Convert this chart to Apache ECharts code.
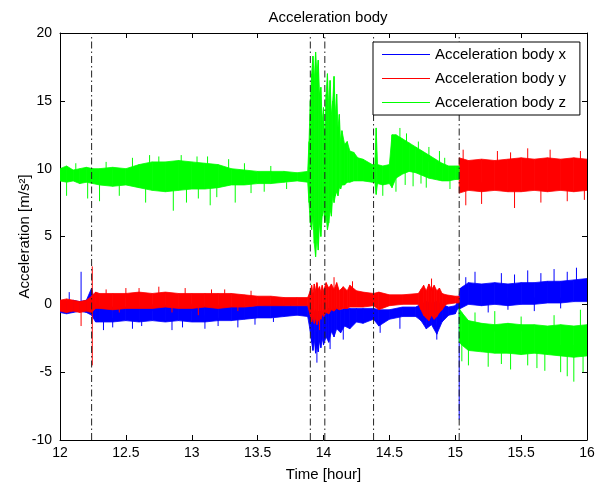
<!DOCTYPE html>
<html><head><meta charset="utf-8">
<script src="https://cdn.jsdelivr.net/npm/echarts@6/dist/echarts.min.js"></script>
<style>html,body{margin:0;padding:0;background:#fff}#c{width:603px;height:488px}</style>
</head><body><div id="c"></div>
<script>
// ---- Data (time in hours, acceleration in m/s^2) ----
// Envelope (upper / lower edge of the dense noisy band) of each signal
const timeX = [12.00,12.05,12.10,12.15,12.20,12.24,12.27,12.30,12.40,12.50,12.60,12.70,12.80,12.90,13.00,13.10,13.20,13.30,13.40,13.50,13.60,13.70,13.80,13.88,13.90,13.91,13.92,13.93,13.94,13.95,13.96,13.97,13.98,13.99,14.00,14.02,14.04,14.06,14.08,14.10,14.13,14.16,14.20,14.25,14.30,14.38,14.42,14.50,14.60,14.70,14.74,14.78,14.82,14.86,14.90,14.95,15.00,15.02,15.04,15.10,15.20,15.30,15.40,15.50,15.60,15.70,15.80,15.90,16.00];
const xHi   = [0.3,0.2,0.3,0.2,0.3,1.2,-0.1,-0.2,-0.2,-0.2,-0.2,-0.2,-0.1,-0.2,-0.2,-0.2,-0.1,-0.2,-0.2,-0.1,0.0,-0.1,-0.1,-0.1,-0.2,-0.4,-0.3,-0.6,-0.4,-0.7,-0.5,-0.8,-0.5,-0.6,-0.4,-0.5,-0.3,-0.4,-0.3,-0.3,-0.4,-0.3,-0.3,-0.3,-0.3,-0.3,-0.4,-0.4,-0.2,-0.2,0.0,0.2,0.1,0.2,0.0,-0.2,-0.1,0.2,1.2,1.6,1.5,1.6,1.5,1.6,1.6,1.7,1.7,1.8,1.9];
const xLo   = [-0.6,-0.7,-0.6,-0.5,-0.6,-0.8,-1.3,-1.3,-1.3,-1.2,-1.3,-1.2,-1.3,-1.2,-1.3,-1.3,-1.2,-1.2,-1.1,-1.0,-1.0,-0.9,-0.8,-0.9,-2.0,-2.8,-3.4,-2.6,-3.6,-3.0,-3.5,-2.7,-3.2,-2.5,-3.0,-2.4,-2.8,-2.0,-2.4,-1.8,-2.1,-1.6,-1.8,-1.3,-1.4,-1.1,-1.6,-1.1,-0.9,-0.9,-1.2,-1.8,-1.5,-2.2,-1.3,-0.8,-0.7,-0.3,-0.3,0.0,-0.1,0.0,-0.1,0.0,0.0,0.1,0.1,0.2,0.2];

const timeY = [12.00,12.05,12.10,12.15,12.20,12.24,12.27,12.30,12.40,12.50,12.60,12.70,12.80,12.90,13.00,13.10,13.20,13.30,13.40,13.50,13.60,13.70,13.80,13.88,13.90,13.91,13.92,13.93,13.94,13.95,13.96,13.97,13.98,13.99,14.00,14.02,14.04,14.06,14.08,14.10,14.12,14.15,14.18,14.20,14.25,14.30,14.38,14.42,14.50,14.60,14.72,14.74,14.76,14.78,14.80,14.82,14.84,14.86,14.88,14.90,14.93,15.00,15.03,15.03,15.10,15.20,15.30,15.40,15.50,15.60,15.70,15.80,15.90,16.00];
const yHi   = [0.3,0.4,0.3,0.2,0.3,0.6,0.9,0.8,0.8,0.8,0.9,0.8,0.9,0.8,0.8,0.8,0.8,0.8,0.7,0.6,0.6,0.5,0.5,0.5,1.0,1.4,0.8,1.5,1.0,1.6,1.1,1.3,0.9,1.4,1.0,1.6,1.2,1.5,1.1,1.6,1.0,1.3,1.0,1.4,1.0,0.9,0.8,0.9,0.7,0.7,0.8,1.1,1.4,1.0,1.5,1.1,1.4,1.0,1.2,0.8,0.7,0.6,0.6,10.8,10.6,10.7,10.6,10.7,10.8,10.7,10.8,10.7,10.8,10.7];
const yLo   = [-0.5,-0.6,-0.5,-0.6,-0.5,-0.6,-0.3,-0.3,-0.4,-0.3,-0.3,-0.3,-0.2,-0.3,-0.3,-0.2,-0.3,-0.2,-0.2,-0.1,-0.1,-0.1,-0.1,-0.1,-0.8,-1.3,-0.9,-1.4,-1.0,-1.5,-1.2,-0.8,-1.1,-0.7,-0.9,-0.6,-0.7,-0.4,-0.5,-0.3,-0.4,-0.3,-0.3,-0.2,-0.2,-0.2,-0.1,-0.4,-0.1,0.0,0.0,-0.4,-0.8,-1.0,-1.2,-0.8,-1.1,-0.9,-0.6,-0.4,0.0,0.1,0.1,8.2,8.4,8.3,8.4,8.3,8.3,8.4,8.3,8.4,8.3,8.4];

const timeZ = [12.00,12.05,12.10,12.15,12.20,12.25,12.30,12.40,12.50,12.60,12.70,12.80,12.90,13.00,13.10,13.20,13.30,13.40,13.50,13.60,13.70,13.80,13.88,13.89,13.90,13.91,13.92,13.93,13.94,13.95,13.96,13.97,13.98,13.99,14.00,14.01,14.02,14.03,14.04,14.05,14.06,14.07,14.08,14.09,14.10,14.11,14.12,14.13,14.14,14.16,14.18,14.20,14.23,14.26,14.30,14.37,14.39,14.40,14.41,14.45,14.50,14.52,14.55,14.60,14.65,14.70,14.75,14.80,14.85,14.90,14.95,15.00,15.03,15.03,15.05,15.10,15.20,15.30,15.40,15.50,15.60,15.70,15.80,15.90,16.00];
const zHi   = [10.0,10.2,9.9,10.0,10.1,10.0,10.0,10.1,10.0,10.3,10.5,10.5,10.6,10.5,10.4,10.3,10.0,9.9,9.8,9.8,9.8,9.7,9.8,12.0,15.0,17.0,18.3,16.5,18.6,17.0,18.0,15.5,16.0,13.5,14.5,12.0,15.5,17.0,14.5,16.5,14.0,15.0,16.8,14.0,15.5,13.0,14.0,12.0,12.8,11.8,12.0,11.3,11.2,10.8,10.7,10.3,10.3,13.0,10.3,10.2,10.3,12.5,12.5,12.2,11.9,11.6,11.3,11.0,10.7,10.4,10.2,10.2,10.2,-0.3,-0.6,-1.2,-1.4,-1.5,-1.4,-1.5,-1.5,-1.6,-1.5,-1.6,-1.5];
const zLo   = [9.1,9.0,9.1,8.9,9.0,8.9,8.8,8.7,8.8,8.6,8.4,8.3,8.4,8.5,8.5,8.6,8.8,8.8,8.9,8.9,9.0,9.1,9.0,7.5,6.0,5.5,6.5,4.5,3.5,5.0,4.0,6.0,5.0,6.5,7.0,6.0,6.5,5.5,6.0,7.0,6.5,8.0,7.5,8.0,8.3,8.0,8.6,8.5,8.8,8.8,9.0,9.0,9.1,9.1,9.1,9.0,9.0,8.1,8.9,8.8,8.9,8.6,9.3,9.6,9.8,9.7,9.5,9.3,9.2,9.1,9.1,9.2,9.2,-2.8,-3.0,-3.4,-3.5,-3.6,-3.6,-3.7,-3.6,-3.7,-3.8,-3.9,-3.8];

// Isolated spikes sticking out of the bands: [time, from, to]
const spikesX = [[12.07,0,0.9],[12.16,0,2.4],[12.33,-0.8,-1.9],[12.40,-1,-1.7],[12.47,-0.5,0.1],[12.55,-0.8,-1.8],[12.62,-1,-1.6],[12.70,-0.5,0.0],[12.85,-0.8,-1.9],[12.93,-1,-1.7],[13.00,-0.5,0.05],[13.10,-0.8,-1.8],[13.20,-1,-1.6],[13.27,-0.5,0.1],[13.35,-0.8,-1.7],[13.48,-1,-1.5],[13.62,-1,-1.3],[13.75,-0.5,0.1],[13.95,-2,-4.3],[14.05,-1.5,-3.3],[14.15,-1,-2.6],[14.43,-1,-2.1],[14.58,-0.8,-1.8],[14.86,-1.5,-2.6],[15.03,0,-8.5],[15.08,1,2.0],[15.15,1,2.4],[15.25,0.5,-0.6],[15.35,1,2.3],[15.40,0.5,-0.4],[15.45,1,2.2],[15.55,1,2.5],[15.60,0.5,-0.5],[15.65,1,2.3],[15.75,1,2.6],[15.80,0.5,-0.3],[15.85,1,2.4],[15.92,1,2.7]];
const spikesY = [[12.16,-0.3,-1.6],[12.245,2.8,-4.5],[12.35,0.5,1.1],[12.45,0,-0.6],[12.50,0.5,1.2],[12.60,0.5,1.2],[12.75,0.5,1.3],[12.85,0,-0.6],[12.95,0.5,1.2],[13.05,0,-0.8],[13.15,0.5,1.1],[13.25,0.5,1.1],[13.35,0,-0.5],[13.45,0.5,1.0],[13.97,0,-1.9],[14.08,1,2.0],[14.22,1,1.7],[14.82,1,1.9],[15.06,9.5,11.4],[15.08,9,7.3],[15.20,9,7.4],[15.32,10,11.3],[15.42,10,11.2],[15.45,9,7.1],[15.55,10,11.5],[15.65,9,7.5],[15.72,10,11.4],[15.85,9,7.6],[15.95,10,11.3],[15.98,9,7.7]];
const spikesZ = [[12.05,9,8.0],[12.12,9.5,10.4],[12.21,9,7.8],[12.30,9,7.6],[12.35,9.5,10.5],[12.45,9,8.0],[12.55,9.5,10.8],[12.65,9,7.5],[12.68,9.5,11.0],[12.75,10,10.9],[12.86,9,6.9],[12.92,9.5,11.0],[12.96,9,7.5],[13.04,10,10.9],[13.05,9,7.8],[13.12,9.5,10.9],[13.14,9,7.3],[13.19,9,7.9],[13.28,10,10.7],[13.33,9,7.5],[13.40,9.5,10.4],[13.45,9,8.2],[13.55,9,8.3],[13.60,9.5,10.2],[13.72,9,8.5],[14.45,9,8.0],[14.55,9.5,8.3],[14.58,11,13.0],[14.62,10,8.8],[14.63,11,12.6],[14.68,10,8.7],[14.72,11,12.0],[14.74,10,8.9],[14.78,10,8.6],[14.80,10.5,11.6],[14.88,10,11.3],[14.92,10,10.8],[14.96,9.5,8.5],[15.05,-2,-4.2],[15.10,-3,-4.5],[15.15,-2,-0.6],[15.25,-3,-4.6],[15.30,-2,-0.5],[15.35,-3,-4.4],[15.42,-3,-4.8],[15.50,-2,-0.9],[15.55,-3,-4.5],[15.62,-3,-4.7],[15.68,-3,-4.9],[15.75,-2,-0.8],[15.80,-3,-5.0],[15.85,-3,-5.3],[15.90,-3,-5.7],[15.95,-2,-0.4],[15.97,-3,-5.0]];

// Event markers (dash-dot vertical lines)
const eventTimes = [12.24, 13.90, 14.01, 14.38, 15.03];

const seriesNames = ['Acceleration body x', 'Acceleration body y', 'Acceleration body z'];
const xMin = 12, xMax = 16, xStep = 0.5;
const yMin = -10, yMax = 20, yStep = 5;

// ---- Build drawing data ----
function segments(t, hi, lo) {
  const out = [];
  for (let i = 0; i < t.length - 1; i++) {
    if (t[i + 1] === t[i]) continue;
    out.push([t[i], lo[i], hi[i], t[i + 1], lo[i + 1], hi[i + 1]]);
  }
  return out;
}
function bandSeries(name, color, t, hi, lo) {
  return {
    type: 'custom', name: name, itemStyle: { color: color }, clip: true,
    encode: { x: [0, 3], y: [1, 2, 4, 5] },
    data: segments(t, hi, lo),
    renderItem: function (params, api) {
      const a = api.coord([api.value(0), api.value(1)]);
      const b = api.coord([api.value(0), api.value(2)]);
      const c = api.coord([api.value(3), api.value(5)]);
      const d = api.coord([api.value(3), api.value(4)]);
      return { type: 'polygon', shape: { points: [a, b, c, d] },
        style: { fill: color, stroke: color, lineWidth: 0.8 } };
    }
  };
}
function spikeSeries(name, color, spikes) {
  return {
    type: 'custom', name: name, itemStyle: { color: color }, clip: true,
    encode: { x: 0, y: [1, 2] },
    data: spikes,
    renderItem: function (params, api) {
      const a = api.coord([api.value(0), api.value(1)]);
      const b = api.coord([api.value(0), api.value(2)]);
      return { type: 'line', shape: { x1: a[0], y1: a[1], x2: b[0], y2: b[1] },
        style: { stroke: color, lineWidth: 1 } };
    }
  };
}

const colors = ['#0000ff', '#ff0000', '#00ff00'];
const font = 'Liberation Sans, Arial, sans-serif';

const axisCommon = {
  type: 'value',
  axisLine: { show: true, onZero: false, lineStyle: { color: '#000', width: 1 } },
  axisTick: { show: true, inside: true, length: 5, lineStyle: { color: '#000' } },
  splitLine: { show: false }
};

const chart = echarts.init(document.getElementById('c'), null, { renderer: 'canvas' });
chart.setOption({
  animation: false,
  backgroundColor: '#ffffff',
  title: {
    text: 'Acceleration body', left: 323, textAlign: 'center', top: 5,
    textStyle: { fontFamily: font, fontSize: 15, fontWeight: 'normal', color: '#000' }
  },
  grid: { left: 60, right: 16, top: 33, bottom: 48 },
  legend: {
    data: seriesNames, orient: 'vertical', left: 373, top: 42,
    icon: 'rect', itemWidth: 48, itemHeight: 1, itemGap: 9,
    padding: [5, 14, 5, 9],
    borderColor: '#000', borderWidth: 1, backgroundColor: '#fff',
    textStyle: { fontFamily: font, fontSize: 15, color: '#000' }
  },
  xAxis: [
    Object.assign({}, axisCommon, {
      min: xMin, max: xMax, interval: xStep, position: 'bottom',
      axisLabel: { fontFamily: font, fontSize: 14, color: '#000', margin: 6 },
      name: 'Time [hour]', nameLocation: 'middle', nameGap: 27, nameMoveOverlap: false,
      nameTextStyle: { fontFamily: font, fontSize: 15, color: '#000' }
    }),
    Object.assign({}, axisCommon, {
      min: xMin, max: xMax, interval: xStep, position: 'top',
      axisLabel: { show: false }
    })
  ],
  yAxis: [
    Object.assign({}, axisCommon, {
      min: yMin, max: yMax, interval: yStep, position: 'left',
      axisLabel: { fontFamily: font, fontSize: 14, color: '#000', margin: 8 },
      name: 'Acceleration [m/s²]', nameLocation: 'middle', nameGap: 28, nameRotate: 90,
      nameMoveOverlap: false,
      nameTextStyle: { fontFamily: font, fontSize: 15, color: '#000' }
    }),
    Object.assign({}, axisCommon, {
      min: yMin, max: yMax, interval: yStep, position: 'right',
      axisLabel: { show: false }
    })
  ],
  series: [
    bandSeries(seriesNames[0], colors[0], timeX, xHi, xLo),
    spikeSeries(seriesNames[0], colors[0], spikesX),
    bandSeries(seriesNames[1], colors[1], timeY, yHi, yLo),
    spikeSeries(seriesNames[1], colors[1], spikesY),
    bandSeries(seriesNames[2], colors[2], timeZ, zHi, zLo),
    spikeSeries(seriesNames[2], colors[2], spikesZ),
    {
      type: 'custom', name: 'events', clip: true,
      encode: { x: 0 },
      data: eventTimes.map(function (t) { return [t]; }),
      renderItem: function (params, api) {
        const a = api.coord([api.value(0), yMin]);
        const b = api.coord([api.value(0), yMax]);
        return { type: 'line', shape: { x1: a[0], y1: a[1], x2: b[0], y2: b[1] },
          style: { stroke: '#222', lineWidth: 1, lineDash: [7, 3, 1.5, 3] } };
      }
    }
  ]
});
</script>
</body></html>
